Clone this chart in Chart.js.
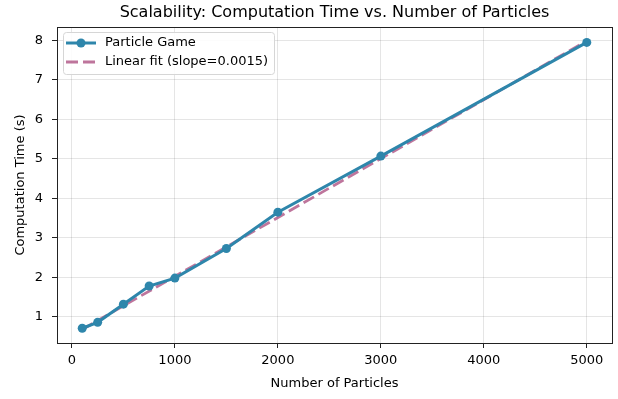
<!DOCTYPE html>
<html>
<head>
<meta charset="utf-8">
<script src="https://cdn.jsdelivr.net/npm/chart.js@4/dist/chart.umd.min.js"></script>
<style>
  html, body { margin: 0; padding: 0; background: #fff; }
  #wrap { width: 618px; height: 399px; }
</style>
</head>
<body>
<div id="wrap"><canvas id="c" width="618" height="399"></canvas></div>
<script>
const particles = [100, 250, 500, 750, 1000, 1500, 2000, 3000, 5000];
const times = [0.71, 0.86, 1.32, 1.78, 1.98, 2.73, 3.65, 5.07, 7.95];
const fitX = [100, 5000];
const fitY = [0.68, 7.99];
const xTicks = [0, 1000, 2000, 3000, 4000, 5000];
const yTicks = [1, 2, 3, 4, 5, 6, 7, 8];

const BLUE = '#2e86ab';
const PINK = 'rgba(162,59,114,0.7)';
const FONT = 'DejaVu Sans';

// title, frame and in-plot legend
const extras = {
  id: 'extras',
  afterDraw(chart) {
    const ctx = chart.ctx, a = chart.chartArea;
    ctx.save();
    ctx.strokeStyle = '#222';
    ctx.lineWidth = 1;
    ctx.strokeRect(Math.round(a.left) + 0.5, Math.round(a.top) + 0.5,
                   Math.round(a.right - a.left), Math.round(a.bottom - a.top));

    ctx.fillStyle = '#000';
    ctx.font = '16px ' + FONT;
    ctx.textAlign = 'center';
    ctx.textBaseline = 'middle';
    ctx.fillText('Scalability: Computation Time vs. Number of Particles', (a.left + a.right) / 2, 13);

    // legend box
    const bx = 63, by = 32, bw = 211, bh = 42;
    ctx.fillStyle = 'rgba(255,255,255,0.85)';
    ctx.strokeStyle = '#d6d6d6';
    ctx.beginPath();
    ctx.roundRect(bx + 0.5, by + 0.5, bw, bh, 3);
    ctx.fill();
    ctx.stroke();

    ctx.lineWidth = 3;
    ctx.strokeStyle = BLUE;
    ctx.beginPath(); ctx.moveTo(bx + 3, by + 11); ctx.lineTo(bx + 33, by + 11); ctx.stroke();
    ctx.fillStyle = BLUE;
    ctx.beginPath(); ctx.arc(bx + 18, by + 11, 4.5, 0, Math.PI * 2); ctx.fill();

    ctx.strokeStyle = PINK;
    ctx.lineWidth = 2.8;
    ctx.setLineDash([12, 5]);
    ctx.beginPath(); ctx.moveTo(bx + 3, by + 30); ctx.lineTo(bx + 33, by + 30); ctx.stroke();
    ctx.setLineDash([]);

    ctx.fillStyle = '#000';
    ctx.font = '13px ' + FONT;
    ctx.textAlign = 'left';
    ctx.fillText('Particle Game', bx + 42, by + 11);
    ctx.fillText('Linear fit (slope=0.0015)', bx + 42, by + 30);
    ctx.restore();
  }
};

new Chart(document.getElementById('c'), {
  type: 'line',
  data: {
    datasets: [
      {
        label: 'Particle Game',
        data: particles.map((x, i) => ({ x: x, y: times[i] })),
        borderColor: BLUE,
        backgroundColor: BLUE,
        borderWidth: 3,
        pointRadius: 4.5,
        pointBackgroundColor: BLUE,
        pointBorderWidth: 0,
        tension: 0
      },
      {
        label: 'Linear fit (slope=0.0015)',
        data: fitX.map((x, i) => ({ x: x, y: fitY[i] })),
        borderColor: PINK,
        borderWidth: 2.8,
        borderDash: [12, 5],
        pointRadius: 0,
        tension: 0
      }
    ]
  },
  options: {
    responsive: false,
    animation: false,
    layout: { padding: { top: 27, right: 6, left: 0, bottom: 0 } },
    plugins: { legend: { display: false }, title: { display: false }, tooltip: { enabled: false } },
    scales: {
      x: {
        type: 'linear',
        min: -145, max: 5245,
        afterBuildTicks: s => { s.ticks = xTicks.map(v => ({ value: v })); },
        afterFit: s => { s.height = 56; },
        grid: { color: 'rgba(0,0,0,0.1)', tickColor: '#222', tickLength: 5 },
        border: { display: false },
        ticks: { color: '#000', font: { family: FONT, size: 13 }, padding: 5, maxRotation: 0, callback: v => String(v) },
        title: { display: true, text: 'Number of Particles', color: '#000', font: { family: FONT, size: 13 }, padding: { top: 0, bottom: 8 } }
      },
      y: {
        min: 0.336, max: 8.34,
        afterBuildTicks: s => { s.ticks = yTicks.map(v => ({ value: v })); },
        afterFit: s => { s.width = 57; },
        grid: { color: 'rgba(0,0,0,0.1)', tickColor: '#222', tickLength: 5 },
        border: { display: false },
        ticks: { color: '#000', font: { family: FONT, size: 13 }, padding: 9 },
        title: { display: true, text: 'Computation Time (s)', color: '#000', font: { family: FONT, size: 13 }, padding: { top: 13, bottom: 0 } }
      }
    }
  },
  plugins: [extras]
});
</script>
</body>
</html>
